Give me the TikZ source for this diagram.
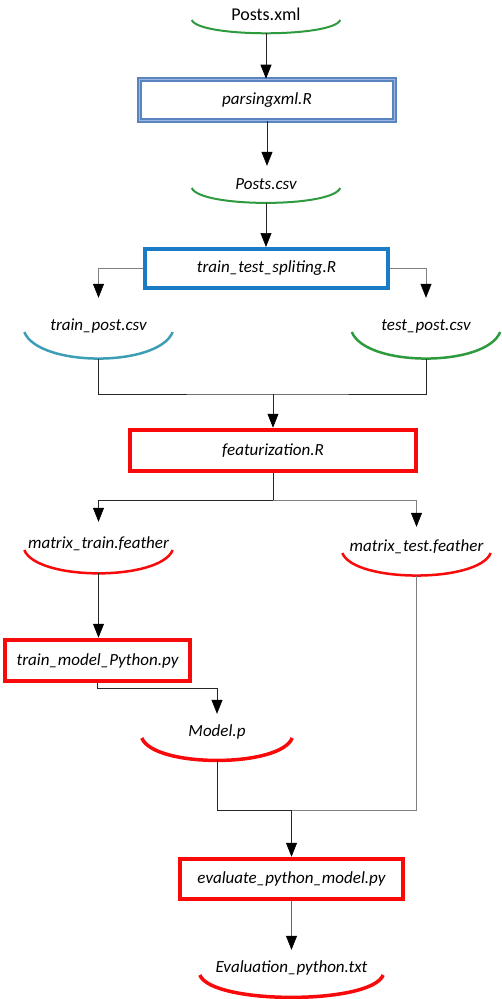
\documentclass[tikz,border=0pt]{standalone}
\usepackage{fontspec}
\setmainfont{Carlito}
\usetikzlibrary{arrows.meta}
\definecolor{filegreen}{HTML}{2E9A3E}
\definecolor{fileteal}{HTML}{3C9EB6}
\definecolor{boxsteel}{HTML}{5A84C0}
\definecolor{boxsteellight}{HTML}{9DB9E2}
\definecolor{boxblue}{HTML}{1B7CC6}
\definecolor{boxred}{HTML}{F80A0A}

\begin{document}
\begin{tikzpicture}[x=1pt,y=1pt,>={Triangle[length=14pt,width=11pt,color=black]},
    file node/.style={font=\itshape\fontsize{17}{20}\selectfont,minimum width=148pt,
                      minimum height=36pt,inner sep=0pt},
    box node/.style={font=\itshape\fontsize{17}{20}\selectfont,inner sep=0pt,fill=white},
    steel node/.style={box node,draw=boxsteel,line width=1.6pt,double=boxsteellight,double distance=1.8pt},
    blue node/.style={box node,draw=boxblue,line width=4pt},
    red node/.style={box node,draw=boxred,line width=4.5pt},
    flow/.style={->,draw=black!85,line width=0.7pt},
    link/.style={draw=black!85,line width=0.7pt},
    file arc/.style={line width=2pt,out=-68,in=-112}]

  \useasboundingbox (0,0) rectangle (501,-999);

  % files
  \node[file node,font=\fontsize{18}{21}\selectfont] (pxml) at (266,-14) {Posts.xml};
  \node[file node] (pcsv) at (266,-184) {Posts.csv};
  \node[file node] (tpost) at (98.5,-326) {train\_post.csv};
  \node[file node] (spost) at (426,-326) {test\_post.csv};
  \node[file node] (mtrain) at (98.5,-544) {matrix\_train.feather};
  \node[file node] (mtest) at (416.5,-547) {matrix\_test.feather};
  \node[file node,minimum width=150pt] (model) at (217,-732) {Model.p};
  \node[file node,minimum width=183pt] (evalt) at (291.5,-968) {Evaluation\_python.txt};

  % scripts
  \node[steel node,minimum width=255pt,minimum height=41pt] (parse) at (267,-100) {parsingxml.R};
  \node[blue node,minimum width=243pt,minimum height=39pt] (split) at (266.5,-268.5) {train\_test\_spliting.R};
  \node[red node,minimum width=286pt,minimum height=41pt] (feat) at (273,-450.5) {featurization.R};
  \node[red node,minimum width=185pt,minimum height=41pt] (train) at (97.5,-660.5) {train\_model\_Python.py};
  \node[red node,minimum width=223pt,minimum height=40pt] (eval) at (291.5,-879) {evaluate\_python\_model.py};

  % file arcs
  \draw[file arc,filegreen] ([yshift=-6pt]pxml.west) to[looseness=0.33] coordinate[midway] (pxmlb) ([yshift=-6pt]pxml.east);
  \draw[file arc,filegreen] ([yshift=-4pt]pcsv.west) to[looseness=0.37] coordinate[midway] (pcsvb) ([yshift=-4pt]pcsv.east);
  \draw[file arc,fileteal,line width=2.5pt] ([yshift=-6pt]tpost.west) to[looseness=0.66] coordinate[midway] (tpostb) ([yshift=-6pt]tpost.east);
  \draw[file arc,filegreen,line width=2.5pt] ([yshift=-6pt]spost.west) to[looseness=0.66] coordinate[midway] (spostb) ([yshift=-6pt]spost.east);
  \draw[file arc,boxred,line width=2.5pt] ([yshift=-6pt]mtrain.west) to[looseness=0.58] coordinate[midway] (mtrainb) ([yshift=-6pt]mtrain.east);
  \draw[file arc,boxred,line width=2.5pt] ([yshift=-6pt]mtest.west) to[looseness=0.56] coordinate[midway] (mtestb) ([yshift=-6pt]mtest.east);
  \draw[file arc,boxred,line width=3.5pt] ([yshift=-6pt]model.west) to[looseness=0.55] coordinate[midway] (modelb) ([yshift=-6pt]model.east);
  \draw[file arc,boxred,line width=3.5pt] ([yshift=-7pt]evalt.west) to[looseness=0.45] coordinate[midway] (evaltb) ([yshift=-7pt]evalt.east);

  % connectors
  \coordinate (join1) at (273,-394);
  \coordinate (fork1) at (273,-500);
  \coordinate (join2) at (291.5,-810);

  \draw[flow] (pxmlb) -- (pxmlb |- parse.north);
  \draw[flow] (parse.south) -- (parse.south |- pcsv.north);
  \draw[flow] (pcsvb) -- (pcsvb |- split.north);
  \draw[flow,draw=gray] (split.west) -| ([yshift=10pt]tpost.north);
  \draw[flow,draw=gray] (split.east) -| ([yshift=10pt]spost.north);
  \draw[link] (tpostb) |- (join1) -| (spostb);
  \draw[flow] (join1) -- (feat.north);
  \draw[link] (feat.south) -- (fork1);
  \draw[flow] (fork1) -| ([yshift=4pt]mtrain.north);
  \draw[flow,draw=gray] (fork1) -| ([yshift=2pt]mtest.north);
  \draw[flow] (mtrainb) -- (mtrainb |- train.north);
  \draw[flow] (train.south) -- ++(0,-5) -| (model.north);
  \draw[link] (modelb) |- (join2);
  \draw[link,draw=gray] (mtestb) |- (join2);
  \draw[flow] (join2) -- (eval.north);
  \draw[flow,draw=gray!80!black] (eval.south) -- (evalt.north);
\end{tikzpicture}
\end{document}
